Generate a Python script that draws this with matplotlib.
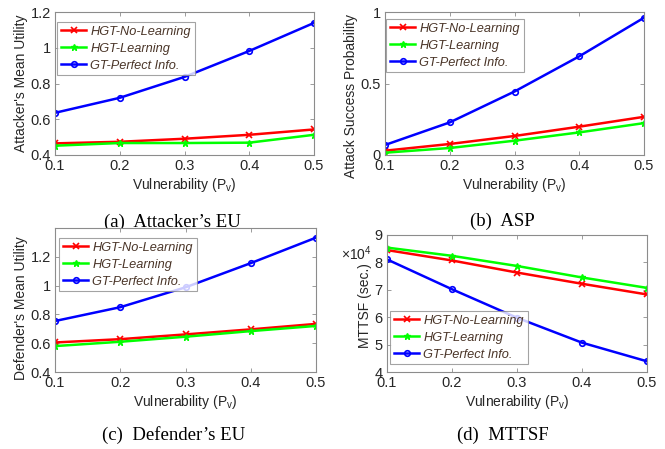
import matplotlib
matplotlib.use("Agg")
import matplotlib.pyplot as plt
from matplotlib.ticker import FuncFormatter

plt.rcParams['font.family'] = ['Liberation Sans', 'DejaVu Sans']
plt.rcParams['mathtext.fontset'] = 'custom'
plt.rcParams['mathtext.rm'] = 'Liberation Sans'
plt.rcParams['mathtext.it'] = 'Liberation Sans:italic'

# ---------------- data ----------------
vulnerability = [0.1, 0.2, 0.3, 0.4, 0.5]
series_names = ['HGT-No-Learning', 'HGT-Learning', 'GT-Perfect Info.']

att_eu_nolearn = [0.465, 0.474, 0.491, 0.513, 0.543]
att_eu_learn = [0.452, 0.467, 0.467, 0.469, 0.513]
att_eu_perfect = [0.636, 0.720, 0.837, 0.982, 1.139]

asp_nolearn = [0.030, 0.077, 0.133, 0.198, 0.267]
asp_learn = [0.016, 0.049, 0.100, 0.158, 0.223]
asp_perfect = [0.070, 0.228, 0.444, 0.690, 0.960]

def_eu_nolearn = [0.605, 0.628, 0.661, 0.696, 0.734]
def_eu_learn = [0.580, 0.610, 0.645, 0.684, 0.720]
def_eu_perfect = [0.754, 0.850, 0.988, 1.156, 1.333]

mttsf_nolearn = [8.45, 8.07, 7.63, 7.22, 6.83]   # x 10^4 sec
mttsf_learn = [8.54, 8.24, 7.87, 7.45, 7.07]
mttsf_perfect = [8.11, 7.02, 5.98, 5.07, 4.39]

captions = ['(a)  Attacker\u2019s EU', '(b)  ASP', '(c)  Defender\u2019s EU', '(d)  MTTSF']
ylabels = ["Attacker's Mean Utility", 'Attack Success Probability',
           "Defender's Mean Utility", 'MTTSF (sec.)']
xlabel = r'Vulnerability (P$_{\mathrm{v}}$)'

# ---------------- figure ----------------
W, H = 665, 449
fig = plt.figure(figsize=(W / 100, H / 100), dpi=100)

def px_axes(l, t, r, b, **kw):
    return fig.add_axes([l / W, (H - b) / H, (r - l) / W, (b - t) / H], **kw)

colors = ['#ff0000', '#00ff00', '#0000ff']
markers = ['x', '*', 'o']
text_col = '#262626'
legend_col = '#4a3528'

def style(ax, ylim, yticks, ylabel, ylabel_y=0.5):
    ax.set_xlim(0.1, 0.5)
    ax.set_xticks(vulnerability)
    ax.set_ylim(*ylim)
    ax.set_yticks(yticks)
    fmt = FuncFormatter(lambda v, p: '%g' % round(v, 6))
    ax.xaxis.set_major_formatter(fmt)
    ax.yaxis.set_major_formatter(fmt)
    ax.tick_params(direction='in', length=3, width=0.6, colors='#8c8c8c',
                   labelcolor=text_col, labelsize=10.5, top=True, right=True, pad=3)
    for s in ax.spines.values():
        s.set_color('#8c8c8c')
        s.set_linewidth(0.8)
    ax.set_xlabel(xlabel, fontsize=10, color=text_col, labelpad=2)
    ax.set_ylabel(ylabel, fontsize=10, color=text_col, labelpad=2)
    ax.yaxis.label.set_y(ylabel_y)

def draw(ax, ys, leg_xy):
    handles = []
    for y, c, m, name in zip(ys, colors, markers, series_names):
        if m == 'o':
            h, = ax.plot(vulnerability, y, color=c, lw=1.8, marker=m, ms=4,
                         mfc='none', mew=1.2, label=name)
        elif m == '*':
            h, = ax.plot(vulnerability, y, color=c, lw=1.8, marker=m, ms=5,
                         mew=1, label=name)
        else:
            h, = ax.plot(vulnerability, y, color=c, lw=1.8, marker=m, ms=4,
                         mew=1.2, label=name)
        handles.append(h)
    leg = ax.legend(handles=handles, loc='upper left',
                    bbox_to_anchor=(leg_xy[0] / W, 1 - leg_xy[1] / H),
                    bbox_transform=fig.transFigure,
                    prop={'style': 'italic', 'size': 9.2}, frameon=True,
                    fancybox=False, borderpad=0.3, labelspacing=0.38,
                    handlelength=2.0, handletextpad=0.3, borderaxespad=0)
    leg.get_frame().set_edgecolor('#8c8c8c')
    leg.get_frame().set_linewidth(0.8)
    for t in leg.get_texts():
        t.set_color(legend_col)

# captions (top-row captions sit partly beneath the lower axes)
cap_kw = dict(ha='center', va='center', family='Liberation Serif', fontsize=13.5, zorder=1)
fig.text(172 / W, 1 - 222 / H, captions[0], **cap_kw)
fig.text(502 / W, 1 - 221 / H, captions[1], **cap_kw)
fig.text(174 / W, 1 - 435 / H, captions[2], **cap_kw)
fig.text(503 / W, 1 - 435 / H, captions[3], **cap_kw)

ax1 = px_axes(55, 12, 314, 155)
draw(ax1, [att_eu_nolearn, att_eu_learn, att_eu_perfect], (57, 22))
style(ax1, (0.4, 1.2), [0.4, 0.6, 0.8, 1.0, 1.2], ylabels[0])

ax2 = px_axes(385, 12, 644, 155)
draw(ax2, [asp_nolearn, asp_learn, asp_perfect], (386, 19))
style(ax2, (0, 1), [0, 0.5, 1], ylabels[1], ylabel_y=(155 - 96) / 143)

ax3 = px_axes(55, 228, 316, 372)
ax3.set_zorder(5)
draw(ax3, [def_eu_nolearn, def_eu_learn, def_eu_perfect], (59, 238))
style(ax3, (0.4, 1.4), [0.4, 0.6, 0.8, 1.0, 1.2], ylabels[2],
      ylabel_y=(372 - 308) / 144)

ax4 = px_axes(387, 235, 647, 372)
ax4.set_zorder(5)
draw(ax4, [mttsf_nolearn, mttsf_learn, mttsf_perfect], (390, 311))
style(ax4, (4, 9), [4, 5, 6, 7, 8, 9], ylabels[3], ylabel_y=(372 - 306) / 137)
fig.text(341 / W, 1 - 254 / H, r'$\times$10$^{4}$', ha='left', va='center',
         fontsize=10, color=text_col, zorder=6)

fig.savefig('out.png', dpi=100, facecolor='white')
